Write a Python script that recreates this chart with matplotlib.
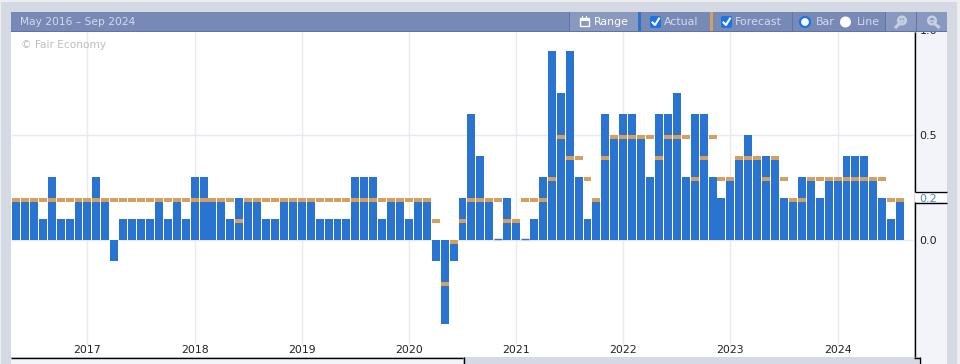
import numpy as np
import matplotlib
matplotlib.use("Agg")
import matplotlib.pyplot as plt
from matplotlib.patches import Rectangle, Circle, FancyBboxPatch

# monthly values, May 2016 onwards
actual = [
    0.2, 0.2, 0.2, 0.1, 0.3, 0.1, 0.1, 0.2,
    0.2, 0.3, 0.2, -0.1, 0.1, 0.1, 0.1, 0.1, 0.2, 0.1, 0.2, 0.1, 0.3, 0.3, 0.2, 0.2,
    0.1, 0.2, 0.2, 0.2, 0.1, 0.1, 0.2, 0.2, 0.2, 0.2, 0.1, 0.1,
    0.1, 0.1, 0.3, 0.3, 0.3, 0.1, 0.2, 0.2,
    0.1, 0.2, 0.2, -0.1, -0.4, -0.1, 0.2, 0.6, 0.4, 0.2, 0.0, 0.2,
    0.1, 0.0, 0.1, 0.3, 0.9, 0.7, 0.9, 0.3, 0.1, 0.2, 0.6, 0.5,
    0.6, 0.6, 0.5, 0.3, 0.6, 0.6, 0.7, 0.3, 0.6, 0.6, 0.3, 0.2,
    0.3, 0.4, 0.5, 0.4, 0.4, 0.4, 0.2, 0.2, 0.3, 0.3, 0.2, 0.3,
    0.3, 0.4, 0.4, 0.4, 0.3, 0.2, 0.1, 0.2,
]
forecast = [
    0.2, 0.2, 0.2, 0.2, 0.2, 0.2, 0.2, 0.2,
    0.2, 0.2, 0.2, 0.2, 0.2, 0.2, 0.2, 0.2, 0.2, 0.2, 0.2, 0.2, 0.2, 0.2, 0.2, 0.2,
    0.2, 0.1, 0.2, 0.2, 0.2, 0.2, 0.2, 0.2, 0.2, 0.2, 0.2, 0.2,
    0.2, 0.2, 0.2, 0.2, 0.2, 0.2, 0.2, 0.2,
    0.2, 0.2, 0.2, 0.1, -0.2, 0.0, 0.1, 0.2, 0.2, 0.2, 0.2, 0.1,
    0.1, 0.2, 0.2, 0.2, 0.3, 0.5, 0.4, 0.4, 0.3, 0.2, 0.4, 0.5,
    0.5, 0.5, 0.5, 0.5, 0.4, 0.5, 0.5, 0.5, 0.3, 0.4, 0.5, 0.3,
    0.3, 0.4, 0.4, 0.4, 0.3, 0.4, 0.3, 0.2, 0.2, 0.3, 0.3, 0.3,
    0.3, 0.3, 0.3, 0.3, 0.3, 0.3, 0.2, 0.2,
]
years = [2017, 2018, 2019, 2020, 2021, 2022, 2023, 2024]
year_pos = [8, 20, 32, 44, 56, 68, 80, 92]
y_ticks = [0.0, 0.2, 0.5, 1.0]
date_range = "May 2016 – Sep 2024"

BLUE = "#2874d0"
ORANGE = "#d59f5f"
HEADER = "#7789b5"
HEADER_LIGHT = "#8998bf"
SEP = "#5f75a8"
GREY = "#d5d9e3"
PANEL = "#f3f4f9"
GRID = "#e9e9f2"
HEAD_TEXT = "#d3daea"
ICON = "#c6cfe3"

plt.rcParams["font.family"] = ["DejaVu Sans"]

fig = plt.figure(figsize=(9.6, 3.64), dpi=100, facecolor="#eceef2")


def pixel_axes(zorder):
    a = fig.add_axes([0, 0, 1, 1], zorder=zorder)
    a.set_xlim(0, 960)
    a.set_ylim(364, 0)
    a.axis("off")
    a.patch.set_alpha(0)
    return a


def box(a, x0, y0, x1, y1, color):
    a.add_patch(Rectangle((x0, y0), x1 - x0, y1 - y0, facecolor=color, edgecolor="none"))


# page behind the chart
bg = pixel_axes(0)
box(bg, 1, 2, 957, 364, GREY)
box(bg, 11, 32, 914, 357, "white")
box(bg, 11, 358, 463, 364, PANEL)
box(bg, 915, 32, 947, 364, PANEL)
box(bg, 915, 357, 919, 364, GREY)
box(bg, 915, 191, 947, 202, "white")

# chart, x is month index and y is the value
ax = fig.add_axes([11 / 960, (364 - 357) / 364, 903 / 960, (357 - 30) / 364], zorder=1)
ax.patch.set_alpha(0)
for s in ax.spines.values():
    s.set_visible(False)

x = np.arange(len(actual))
px_x = 8.93
px_y = 210.0
ax.set_xlim(-5 / px_x, 898 / px_x)
ax.set_ylim(-117 / px_y, 210 / px_y)

ax.hlines([0.0, 0.5], *ax.get_xlim(), color=GRID, lw=1, zorder=1)
ax.vlines(year_pos, -104 / px_y, 1.0, color=GRID, lw=1, zorder=1)

ax.bar(x, actual, width=0.89, color=BLUE, zorder=2)
flat = x[np.array(actual) == 0.0]
ax.hlines([0.004] * len(flat), flat - 0.44, flat + 0.44, color=BLUE, lw=1, zorder=2)
ax.bar(x, [-4 / px_y] * len(x), bottom=forecast, width=0.89, color=ORANGE, zorder=3)

ax.set_xticks(year_pos, [str(y) for y in years])
ax.tick_params(axis="x", length=0, pad=-8.5, labelsize=7.8, colors="#222222")
ax.yaxis.tick_right()
ax.set_yticks(y_ticks, [f"{v:.1f}" for v in y_ticks])
ax.tick_params(axis="y", length=0, pad=4, labelsize=8, colors="#222222")
ax.yaxis.get_major_ticks()[1].label2.set_color("#4a86d8")

ax.text(21, 45, "© Fair Economy", color="#bdbdbd", fontsize=7.6, va="center",
        transform=bg.transData, zorder=1)

# header bar and frame lines on top
top = pixel_axes(2)
box(top, 11, 12, 947, 31, HEADER)
box(top, 570, 12, 638, 31, HEADER_LIGHT)
box(top, 886, 12, 916, 31, HEADER_LIGHT)
box(top, 917, 12, 947, 31, HEADER_LIGHT)
box(top, 11, 31, 947, 32, "#5b74ab")
box(top, 638, 12, 641, 31, BLUE)
box(top, 710, 12, 713, 31, ORANGE)
for sx in [569, 792, 885, 916]:
    box(top, sx, 12, sx + 1, 31, SEP)

top.text(20, 22, date_range, color=HEAD_TEXT, fontsize=7.7, va="center")
top.text(594, 22, "Range", color="white", fontsize=7.9, va="center")
top.text(664, 22, "Actual", color=HEAD_TEXT, fontsize=7.9, va="center")
top.text(735, 22, "Forecast", color=HEAD_TEXT, fontsize=7.9, va="center")
top.text(816, 22, "Bar", color=HEAD_TEXT, fontsize=7.9, va="center")
top.text(857, 22, "Line", color=HEAD_TEXT, fontsize=7.9, va="center")

# calendar icon
top.add_patch(Rectangle((580, 18), 9, 8, facecolor="none", edgecolor="white", lw=1))
box(top, 580, 18, 589, 21, "white")
box(top, 582, 16, 583, 18, "white")
box(top, 586, 16, 587, 18, "white")

# check boxes
for cx in [650, 721]:
    top.add_patch(FancyBboxPatch((cx, 16), 11, 12, boxstyle="round,pad=0,rounding_size=2",
                                 facecolor="#1a73e8", edgecolor="none"))
    top.plot([cx + 2.5, cx + 5, cx + 9], [22.5, 25, 18.5], color="white", lw=1.5)

# radio buttons
top.add_patch(Circle((805, 22), 5, facecolor="white", edgecolor="#1a73e8", lw=1.6))
top.add_patch(Circle((845.5, 22), 5.5, facecolor="white", edgecolor="none"))

# magnifier icons
for cx, plus in [(902, True), (932, False)]:
    top.add_patch(Circle((cx, 20.5), 3.8, facecolor="none", edgecolor=ICON, lw=1.8))
    hx = [cx - 2.5, cx - 6] if plus else [cx + 2.5, cx + 6.5]
    top.plot(hx, [23.5, 27], color=ICON, lw=2.2)
    top.plot([cx - 2, cx + 2], [20.5, 20.5], color=ICON, lw=1.2)
    if plus:
        top.plot([cx, cx], [18.5, 22.5], color=ICON, lw=1.2)

# black frame, with the notch around the last value
line = dict(color="black", lw=1, solid_capstyle="butt")
top.plot([11, 463], [357.5, 357.5], **line)
top.plot([463.5, 463.5], [357, 364], **line)
top.plot([914.5, 914.5], [32, 191.5], **line)
top.plot([914.5, 947], [191.5, 191.5], **line)
top.plot([914.5, 947], [202.5, 202.5], **line)
top.plot([914.5, 914.5], [202, 357], **line)
top.plot([914, 919.5], [357.5, 357.5], **line)
top.plot([919.5, 919.5], [357, 364], **line)

fig.savefig("out.png", dpi=100, facecolor=fig.get_facecolor())
